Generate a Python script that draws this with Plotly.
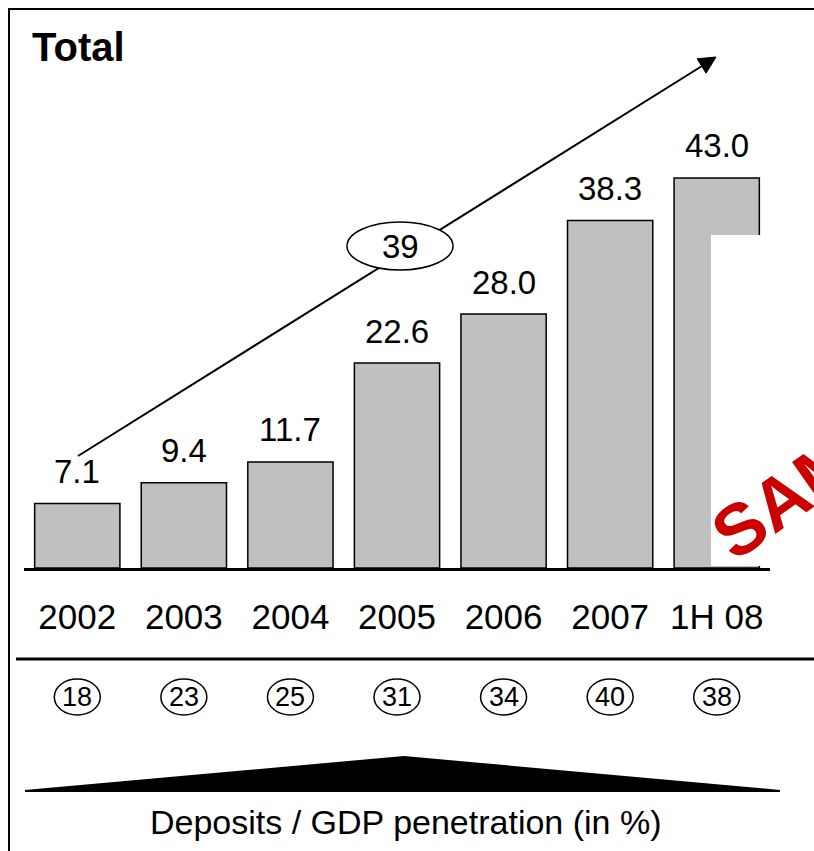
import plotly.graph_objects as go

# Deposits (bars) and deposits/GDP penetration (circled values)
categories = ["2002", "2003", "2004", "2005", "2006", "2007", "1H 08"]
deposits = [7.1, 9.4, 11.7, 22.6, 28.0, 38.3, 43.0]
penetration = [18, 23, 25, 31, 34, 40, 38]
growth_label = "39"

W, H = 814, 851
L, R, T, B = 24, 44, 10, 283
PW, PH = W - L - R, H - T - B
PX_PER_UNIT = 9.07

FONT = "Arial, Liberation Sans, sans-serif"


def fx(x):
    """pixel x -> paper x"""
    return (x - L) / PW


def fy(y):
    """pixel y (from top) -> paper y"""
    return (H - B - y) / PH


idx = list(range(len(categories)))

fig = go.Figure()
fig.add_trace(go.Bar(
    x=idx,
    y=deposits,
    width=0.8,
    marker=dict(color="#c0c0c0", line=dict(color="black", width=1.5)),
    hoverinfo="skip",
))

annotations = []
# value labels above bars
for i, v in zip(idx, deposits):
    annotations.append(dict(
        x=i, y=v, xref="x", yref="y", text=f"{v:.1f}", showarrow=False,
        xanchor="center", yanchor="middle", yshift=32,
        font=dict(family=FONT, size=33, color="black"),
    ))

shapes = []
# circled penetration values
half_w = 23 / (PW / len(categories))
for i, p in zip(idx, penetration):
    shapes.append(dict(
        type="circle", xref="x", yref="paper",
        x0=i - half_w, x1=i + half_w, y0=fy(715), y1=fy(679),
        line=dict(color="black", width=1.5), fillcolor="white", layer="above",
    ))
    annotations.append(dict(
        x=i, y=fy(697), xref="x", yref="paper", text=str(p), showarrow=False,
        xanchor="center", yanchor="middle",
        font=dict(family=FONT, size=27, color="black"),
    ))

# frame (left and top edges)
shapes.append(dict(type="line", xref="paper", yref="paper",
                   x0=fx(9), x1=fx(9), y0=fy(8), y1=fy(851),
                   line=dict(color="black", width=2)))
shapes.append(dict(type="line", xref="paper", yref="paper",
                   x0=fx(8), x1=fx(814), y0=fy(9), y1=fy(9),
                   line=dict(color="black", width=2)))

# separator under the year labels
shapes.append(dict(type="line", xref="paper", yref="paper",
                   x0=fx(16), x1=fx(814), y0=fy(659), y1=fy(659),
                   line=dict(color="black", width=3)))

# wedge above the footnote
wedge = [(25, 791), (404, 757), (780, 791)]
shapes.append(dict(
    type="path", xref="paper", yref="paper",
    path="M {} {} L {} {} L {} {} Z".format(
        *[v for pt in wedge for v in (fx(pt[0]), fy(pt[1]))]),
    fillcolor="black", line=dict(color="black", width=2),
))

# growth arrow
shapes.append(dict(type="line", xref="paper", yref="paper",
                   x0=fx(78), y0=fy(456), x1=fx(702), y1=fy(66),
                   line=dict(color="black", width=2)))
head = [(716, 57), (706.1, 73.2), (697.1, 58.8)]
shapes.append(dict(
    type="path", xref="paper", yref="paper",
    path="M {} {} L {} {} L {} {} Z".format(
        *[v for pt in head for v in (fx(pt[0]), fy(pt[1]))]),
    fillcolor="black", line=dict(color="black", width=1),
))
shapes.append(dict(type="circle", xref="paper", yref="paper",
                   x0=fx(347), x1=fx(453), y0=fy(270), y1=fy(222),
                   fillcolor="white", line=dict(color="black", width=1.5)))
annotations.append(dict(
    x=fx(400), y=fy(246), xref="paper", yref="paper", text=growth_label,
    showarrow=False, xanchor="center", yanchor="middle",
    font=dict(family=FONT, size=33, color="black"),
))

# white panel behind the stamp
shapes.append(dict(type="rect", xref="paper", yref="paper",
                   x0=fx(711), x1=fx(816), y0=fy(566), y1=fy(235),
                   fillcolor="white", line=dict(width=0)))

annotations.append(dict(
    x=fx(30), y=fy(47), xref="paper", yref="paper", text="<b>Total</b>",
    showarrow=False, xanchor="left", yanchor="middle",
    font=dict(family=FONT, size=40, color="black"),
))
annotations.append(dict(
    x=fx(406), y=fy(822), xref="paper", yref="paper",
    text="Deposits / GDP penetration (in %)", showarrow=False,
    xanchor="center", yanchor="middle",
    font=dict(family=FONT, size=34, color="black"),
))
annotations.append(dict(
    x=fx(843), y=fy(456), xref="paper", yref="paper", text="<b>SAMPLE</b>",
    showarrow=False, xanchor="center", yanchor="middle", textangle=-35,
    font=dict(family=FONT, size=72, color="#cc0000"),
))

fig.update_layout(
    width=W, height=H,
    margin=dict(l=L, r=R, t=T, b=B, pad=0),
    paper_bgcolor="white", plot_bgcolor="white",
    showlegend=False,
    xaxis=dict(
        type="linear",
        tickmode="array", tickvals=idx, ticktext=categories,
        showline=True, linecolor="black", linewidth=3, ticks="",
        showgrid=False, zeroline=False, ticklabelstandoff=16,
        tickfont=dict(family=FONT, size=35, color="black"),
        range=[-0.5, len(categories) - 0.5], fixedrange=True,
    ),
    yaxis=dict(
        range=[0, PH / PX_PER_UNIT], visible=False, fixedrange=True,
    ),
    shapes=shapes,
    annotations=annotations,
)

# page styling: no scrollbars around the figure
page_script = (
    "var st=document.createElement('style');"
    "st.textContent='html,body{margin:0;overflow:hidden;scrollbar-width:none;}"
    "::-webkit-scrollbar{display:none;width:0;height:0;}';"
    "document.head.appendChild(st);"
)

fig.write_html("out.html", config={"displayModeBar": False},
               post_script=page_script)
